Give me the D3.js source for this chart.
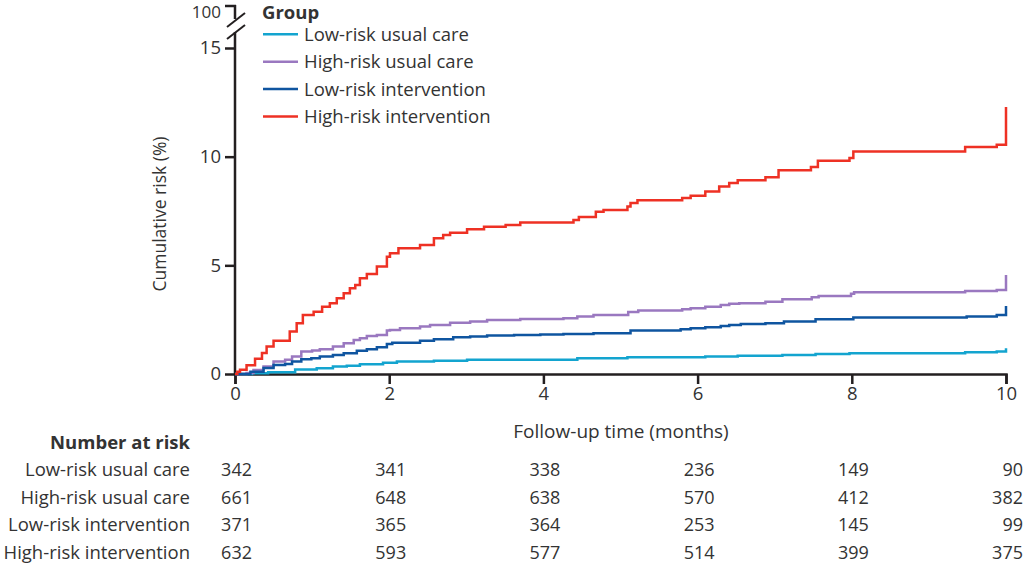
<!DOCTYPE html>
<html>
<head>
<meta charset="utf-8">
<script src="https://cdn.jsdelivr.net/npm/d3@7"></script>
<style>
  body { margin: 0; background: #fff; }
  text { font-family: "Open Sans", "DejaVu Sans", sans-serif; fill: #333; }
</style>
</head>
<body>
<div class="chart"></div>
<script>
// cumulative risk steps, [month, percent]
var lowUsual = [[0,0],[0.22,0.04],[0.43,0.08],[0.78,0.21],[1.06,0.26],[1.27,0.34],[1.45,0.38],[1.62,0.45],[1.92,0.52],[2.1,0.57],[2.58,0.61],[3.01,0.65],[4.44,0.72],[5.09,0.77],[6.1,0.8],[6.52,0.84],[7.1,0.87],[7.53,0.92],[7.97,0.95],[9.47,1.0],[9.88,1.03],[10,1.18]];
var highUsual = [[0,0],[0.15,0.05],[0.24,0.18],[0.37,0.34],[0.5,0.57],[0.65,0.65],[0.74,0.8],[0.86,1.03],[1.0,1.08],[1.1,1.14],[1.27,1.26],[1.41,1.41],[1.54,1.57],[1.62,1.64],[1.71,1.75],[1.84,1.8],[1.97,2.0],[2.01,2.03],[2.14,2.1],[2.4,2.18],[2.53,2.26],[2.79,2.36],[3.05,2.41],[3.27,2.49],[3.7,2.53],[4.26,2.57],[4.44,2.64],[4.65,2.72],[5.1,2.85],[5.23,2.92],[5.8,2.98],[5.91,3.03],[6.1,3.1],[6.3,3.18],[6.41,3.23],[6.54,3.26],[6.88,3.33],[7.1,3.44],[7.48,3.53],[7.57,3.59],[7.99,3.69],[8.03,3.76],[9.47,3.82],[9.88,3.87],[10,4.56]];
var lowInterv = [[0,0],[0.2,0.1],[0.37,0.28],[0.5,0.41],[0.65,0.46],[0.74,0.57],[0.86,0.68],[0.99,0.72],[1.1,0.8],[1.27,0.88],[1.41,0.95],[1.58,1.07],[1.71,1.14],[1.84,1.23],[1.97,1.38],[2.04,1.44],[2.4,1.53],[2.58,1.6],[2.83,1.69],[3.05,1.72],[3.27,1.77],[3.62,1.8],[3.96,1.82],[4.26,1.84],[4.65,1.88],[5.13,2.0],[5.78,2.06],[5.91,2.1],[6.1,2.15],[6.3,2.21],[6.41,2.26],[6.56,2.3],[6.88,2.33],[7.12,2.41],[7.53,2.52],[8.02,2.6],[9.49,2.64],[9.88,2.72],[10,3.13]];
var highInterv = [[0,0],[0.03,0.1],[0.065,0.2],[0.15,0.4],[0.26,0.7],[0.35,0.97],[0.41,1.26],[0.5,1.53],[0.71,1.95],[0.8,2.34],[0.88,2.72],[1.02,2.87],[1.13,3.1],[1.23,3.26],[1.32,3.49],[1.41,3.72],[1.49,3.95],[1.56,4.1],[1.62,4.4],[1.71,4.6],[1.84,4.95],[1.97,5.4],[2.01,5.56],[2.12,5.79],[2.4,5.94],[2.58,6.25],[2.7,6.4],[2.79,6.5],[3.01,6.66],[3.23,6.78],[3.51,6.86],[3.7,6.97],[4.39,7.09],[4.46,7.22],[4.68,7.47],[4.78,7.55],[5.09,7.71],[5.13,7.87],[5.22,7.99],[5.8,8.1],[5.91,8.2],[6.1,8.4],[6.28,8.63],[6.41,8.79],[6.52,8.91],[6.88,9.05],[7.05,9.37],[7.47,9.52],[7.56,9.81],[7.97,9.94],[8.02,10.24],[9.47,10.45],[9.88,10.55],[10,12.29]];

var groups = ['Low-risk usual care', 'High-risk usual care', 'Low-risk intervention', 'High-risk intervention'];
var colors = ['#13a4cf', '#9a78c0', '#0f55a0', '#ee3124'];

var xTicks = [0, 2, 4, 6, 8, 10];
var yTicks = [0, 5, 10, 15];

// number at risk at each x tick
var riskLowUsual = [342, 341, 338, 236, 149, 90];
var riskHighUsual = [661, 648, 638, 570, 412, 382];
var riskLowInterv = [371, 365, 364, 253, 145, 99];
var riskHighInterv = [632, 593, 577, 514, 399, 375];

var series = [lowUsual, highUsual, lowInterv, highInterv];
var atRisk = [riskLowUsual, riskHighUsual, riskLowInterv, riskHighInterv];

var fontSize = 18.5;
var axisColor = '#231f20';

var svg = d3.select('.chart').append('svg')
            .attr('width', 1024)
            .attr('height', 565);

var x = d3.scaleLinear().domain([0, 10]).range([235, 1006]);
var y = d3.scaleLinear().domain([0, 15]).range([374, 48]);

//x axis
var xAxis = svg.append('g')
  .attr('transform', 'translate(0,374)')
  .call(d3.axisBottom(x).tickValues(xTicks).tickSize(10).tickPadding(3));
xAxis.select('.domain').attr('stroke', axisColor).attr('stroke-width', 2.5);
xAxis.selectAll('.tick line').attr('stroke', axisColor).attr('stroke-width', 2.5);
xAxis.selectAll('.tick text').attr('font-size', fontSize).attr('fill', '#333')
     .style('font-family', '"Open Sans", sans-serif');

//y axis (lower part, 0-15)
var yAxis = svg.append('g')
  .attr('transform', 'translate(235,0)')
  .call(d3.axisLeft(y).tickValues(yTicks).tickSize(10).tickSizeOuter(0).tickPadding(4));
yAxis.select('.domain').remove();
yAxis.selectAll('.tick line').attr('stroke', axisColor).attr('stroke-width', 2.5);
yAxis.selectAll('.tick text').attr('font-size', fontSize).attr('fill', '#333')
     .style('font-family', '"Open Sans", sans-serif');

svg.append('line')
   .attr('x1', 235).attr('x2', 235)
   .attr('y1', 375).attr('y2', 32)
   .attr('stroke', axisColor).attr('stroke-width', 2.5);

// short segment above the break with the 100 tick
svg.append('line')
   .attr('x1', 235).attr('x2', 235)
   .attr('y1', 5).attr('y2', 19)
   .attr('stroke', axisColor).attr('stroke-width', 2.5);
svg.append('line')
   .attr('x1', 225).attr('x2', 236)
   .attr('y1', 6).attr('y2', 6)
   .attr('stroke', axisColor).attr('stroke-width', 2.5);
svg.append('text')
   .attr('x', 221).attr('y', 12.5)
   .attr('dy', '0.32em')
   .attr('text-anchor', 'end')
   .attr('font-size', 17)
   .text('100');

// break marks
svg.append('line')
   .attr('x1', 227).attr('y1', 27).attr('x2', 245).attr('y2', 13)
   .attr('stroke', axisColor).attr('stroke-width', 2);
svg.append('line')
   .attr('x1', 227).attr('y1', 39).attr('x2', 245).attr('y2', 25)
   .attr('stroke', axisColor).attr('stroke-width', 2);

//axis titles
svg.append('text')
   .attr('x', 621).attr('y', 431)
   .attr('dy', '0.35em')
   .attr('text-anchor', 'middle')
   .attr('font-size', fontSize + 0.5)
   .text('Follow-up time (months)');

svg.append('text')
   .attr('transform', 'translate(160,214) rotate(-90)')
   .attr('dy', '0.35em')
   .attr('text-anchor', 'middle')
   .attr('font-size', 17.5)
   .text('Cumulative risk (%)');

//curves
var line = d3.line()
  .x(function(d){ return x(d[0]); })
  .y(function(d){ return y(d[1]); })
  .curve(d3.curveStepAfter);

svg.selectAll('path.curve')
   .data(series)
   .enter()
   .append('path')
     .attr('class', 'curve')
     .attr('fill', 'none')
     .attr('stroke', function(d, i){ return colors[i]; })
     .attr('stroke-width', 2.5)
     .attr('d', line);

//legend
svg.append('text')
   .attr('x', 262).attr('y', 13)
   .attr('dy', '0.35em')
   .attr('font-size', fontSize)
   .attr('font-weight', 'bold')
   .text('Group');

var legend = svg.selectAll('g.legend')
  .data(groups)
  .enter()
  .append('g')
    .attr('class', 'legend')
    .attr('transform', function(d, i){ return 'translate(263,' + (34.3 + i * 27.4) + ')'; });

legend.append('line')
  .attr('x1', 0).attr('x2', 35)
  .attr('stroke', function(d, i){ return colors[i]; })
  .attr('stroke-width', 2.5);

legend.append('text')
  .attr('x', 41)
  .attr('dy', '0.35em')
  .attr('font-size', fontSize)
  .text(function(d){ return d; });

//number at risk table
svg.append('text')
   .attr('x', 190).attr('y', 443)
   .attr('dy', '0.35em')
   .attr('text-anchor', 'end')
   .attr('font-size', fontSize)
   .attr('font-weight', 'bold')
   .text('Number at risk');

var rows = svg.selectAll('g.riskrow')
  .data(groups)
  .enter()
  .append('g')
    .attr('class', 'riskrow')
    .attr('transform', function(d, i){ return 'translate(0,' + (470 + i * 27.4) + ')'; });

rows.append('text')
  .attr('x', 190)
  .attr('dy', '0.35em')
  .attr('text-anchor', 'end')
  .attr('font-size', fontSize)
  .text(function(d){ return d; });

rows.each(function(d, i){
  d3.select(this).selectAll('text.num')
    .data(atRisk[i])
    .enter()
    .append('text')
      .attr('class', 'num')
      .attr('x', function(v, j){ return x(xTicks[j]) + 17; })
      .attr('dy', '0.35em')
      .attr('text-anchor', 'end')
      .attr('font-size', 18)
      .style('font-variant-numeric', 'tabular-nums')
      .text(function(v){ return v; });
});
</script>
</body>
</html>
